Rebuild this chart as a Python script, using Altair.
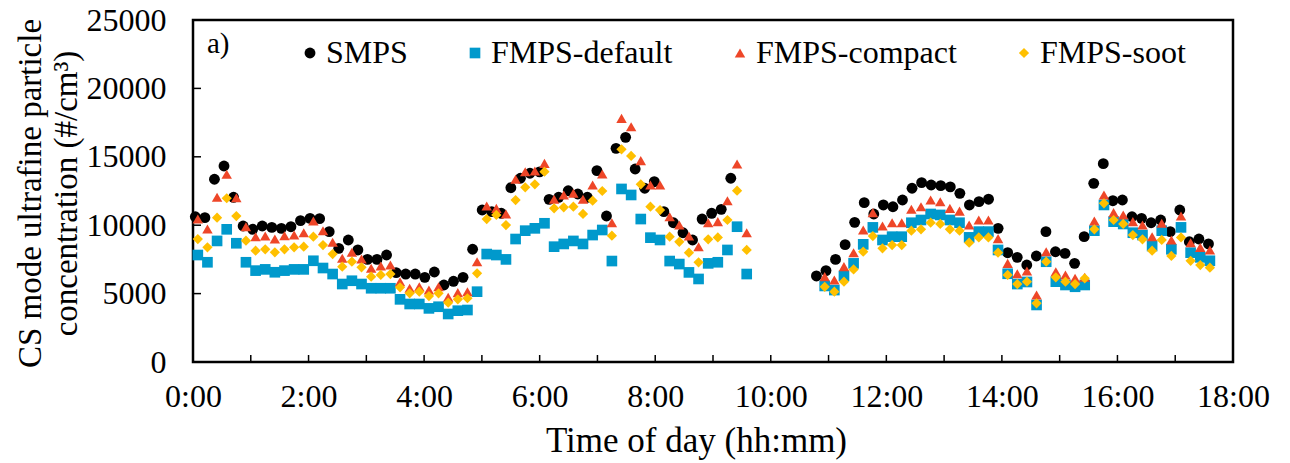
import altair as alt
import pandas as pd

# ---- values (#/cm3) ----
smps_1 = [10620, 10550, 13360, 14330, 12040, 9940, 9700, 9940, 9840, 9770,
          9890, 10330, 10500, 10480, 9530, 8310, 8920, 8190, 7500, 7500,
          7820, 6530, 6430, 6430, 6190, 6580, 5630, 5900, 6190, 8240,
          11110, 10990, 10870, 12740, 13430, 13800, 13900, 11890, 12040, 12520,
          12280, 12040, 13990, 10670, 15620, 16420, 14110, 12700, 13180, 10990,
          10180, 9450, 8920, 10450, 10870, 11160, 13430]
smps_2 = [6290, 6680, 7500, 8580, 10210, 11650, 10820, 11480, 11350, 11840,
          12700, 13110, 12940, 12890, 12800, 12330, 11480, 11720, 11900, 9770,
          7990, 7650, 7090, 7750, 9530, 8060, 7940, 7210, 9160, 13060,
          14500, 11790, 11840, 10620, 10500, 10180, 10380, 9530, 11110, 8790,
          8990, 8630]

default_1 = [7820, 7290, 8850, 9700, 8680, 7290, 6680, 6770, 6560, 6680,
             6770, 6770, 7400, 6870, 6430, 5700, 5940, 5700, 5390, 5390,
             5390, 4580, 4240, 4240, 3920, 4040, 3510, 3750, 3800, 5140,
             7890, 7820, 7500, 8990, 9600, 9770, 10140, 8430, 8630, 8850,
             8630, 9280, 9650, 7380, 12650, 12210, 10450, 9090, 8920, 7380,
             7160, 6550, 6070, 7210, 7290, 8190, 9890, 6430]
default_2 = [5560, 5260, 6290, 7210, 8600, 9840, 8920, 9160, 9160, 10180,
             10380, 10820, 10750, 10380, 10180, 9110, 9530, 9530, 8190, 6450,
             5700, 5850, 4170, 7330, 5870, 5630, 5500, 5630, 9600, 11480,
             10260, 10090, 9450, 9280, 8480, 9600, 8240, 9840, 7990, 7650,
             7400]

compact_1 = [10450, 9720, 12040, 13720, 12010, 9890, 9160, 9210, 8990, 9230,
             9280, 9450, 10310, 9600, 8750, 7580, 8020, 7530, 6850, 7020,
             7090, 5870, 5390, 5500, 5260, 5500, 4730, 5070, 5140, 7330,
             11400, 11230, 10820, 13360, 13910, 13960, 14520, 11890, 12210, 12330,
             11890, 12940, 13740, 10180, 17810, 17200, 14720, 12940, 12940, 10620,
             10010, 9210, 8430, 10180, 10260, 11790, 14470, 9450]
compact_2 = [6240, 5990, 6970, 7990, 9650, 10920, 9940, 10180, 10180, 11160,
             11350, 11840, 11720, 11230, 11030, 10010, 10380, 10380, 9020, 7210,
             6450, 6650, 4900, 8060, 6600, 6360, 6120, 6190, 10310, 12210,
             10920, 10750, 10260, 10010, 9160, 10140, 8920, 10670, 8720, 8380,
             8190]

soot_1 = [8990, 8380, 10550, 11970, 10670, 8870, 8140, 8240, 8020, 8240,
          8380, 8430, 9160, 8550, 7890, 6970, 7330, 6920, 6240, 6360,
          6430, 5460, 5020, 5140, 4820, 5020, 4340, 4580, 4660, 6480,
          10450, 10750, 10010, 11840, 12770, 12990, 13910, 11230, 11310, 11350,
          10820, 11790, 12500, 9230, 15550, 15060, 12990, 11350, 11110, 9160,
          8790, 7990, 7290, 8970, 9110, 10380, 12520, 8190]
soot_2 = [5500, 5140, 5870, 6770, 8060, 9210, 8310, 8550, 8550, 9600,
          9700, 10180, 10090, 9700, 9600, 8720, 9110, 9110, 7990, 6360,
          5700, 5870, 4290, 7330, 6190, 5870, 5700, 6120, 9700, 11600,
          10380, 10090, 9280, 8970, 8140, 8920, 7750, 9110, 7400, 7090,
          6890]

# sampling grids (minutes after midnight): SMPS scans ~9.93 min, FMPS 10 min
def grid(start, step, n):
    return [start + step * i for i in range(n)]

smps_t1 = grid(2.4, 9.93, len(smps_1))
smps_t2 = grid(647.4, 9.93, len(smps_2))
fmps_t1 = grid(5.0, 10.0, len(default_1))
fmps_t2 = grid(656.0, 10.0, len(default_2))

series = ["SMPS", "FMPS-default", "FMPS-compact", "FMPS-soot"]
colors = ["#000000", "#0099CC", "#EE4628", "#FFC000"]
shapes = ["circle", "square", "triangle-up", "diamond"]
sizes = [118, 105, 190, 140]

x_ticks = list(range(0, 19, 2))
y_ticks = [0, 5000, 10000, 15000, 20000, 25000]
inner_x_ticks = list(range(1, 18))
inner_y_ticks = [5000, 10000, 15000, 20000]

rows = []
def add(name, times, vals):
    for t, v in zip(times, vals):
        rows.append({"hour": t / 60.0, "conc": v, "series": name})

add("SMPS", smps_t1, smps_1)
add("SMPS", smps_t2, smps_2)
add("FMPS-default", fmps_t1, default_1)
add("FMPS-default", fmps_t2, default_2)
add("FMPS-compact", fmps_t1, compact_1)
add("FMPS-compact", fmps_t2, compact_2)
add("FMPS-soot", fmps_t1, soot_1)
add("FMPS-soot", fmps_t2, soot_2)
df = pd.DataFrame(rows)

W, H = 1040, 342
FONT = "Liberation Serif"
FS = 32

x_scale = alt.Scale(domain=[0, 18], nice=False, zero=False)
y_scale = alt.Scale(domain=[0, 25000], nice=False)

x_axis = alt.Axis(
    title="Time of day (hh:mm)", values=x_ticks, labelExpr="datum.value + ':00'",
    ticks=False, domain=False, grid=False, labelPadding=19, labelFlush=False,
    labelFont=FONT, labelFontSize=FS, labelColor="black",
    titleFont=FONT, titleFontSize=35, titleFontWeight="normal", titleColor="black",
    titleBaseline="alphabetic", titleY=89, titleX=503)
y_axis = alt.Axis(
    title=["CS mode ultrafine particle", "concentration (#/cm³)"], values=y_ticks,
    format="d", ticks=False, domain=False, grid=False, labelPadding=27, labelFlush=False,
    labelFont=FONT, labelFontSize=FS, labelColor="black",
    titleFont=FONT, titleFontSize=33, titleFontWeight="normal", titleColor="black",
    titleBaseline="middle", titleX=-163, titleY=173, titleLineHeight=36)

legend = alt.Legend(
    orient="none", legendX=101, legendY=17, direction="horizontal", title=None,
    labelFont=FONT, labelFontSize=FS, labelColor="black", labelLimit=500,
    symbolSize=100, columnPadding=51, labelOffset=0, padding=0,
    symbolStrokeWidth=0, symbolOpacity=1,
)

points = alt.Chart(df).mark_point(filled=True, opacity=1, strokeWidth=0).encode(
    x=alt.X("hour:Q", scale=x_scale, axis=x_axis),
    y=alt.Y("conc:Q", scale=y_scale, axis=y_axis),
    color=alt.Color("series:N", scale=alt.Scale(domain=series, range=colors), legend=legend),
    shape=alt.Shape("series:N", scale=alt.Scale(domain=series, range=shapes), legend=legend),
    size=alt.Size("series:N", scale=alt.Scale(domain=series, range=sizes), legend=None),
)

xt = alt.Chart(pd.DataFrame({"hour": inner_x_ticks})).mark_rule(color="black", strokeWidth=1.5).encode(
    x=alt.X("hour:Q", scale=x_scale, axis=x_axis),
    y=alt.value(H), y2=alt.value(H - 7),
)
yt = alt.Chart(pd.DataFrame({"conc": inner_y_ticks})).mark_rule(color="black", strokeWidth=1.5).encode(
    y=alt.Y("conc:Q", scale=y_scale, axis=y_axis),
    x=alt.value(0), x2=alt.value(8),
)
panel = alt.Chart(pd.DataFrame({"t": ["a)"]})).mark_text(
    align="left", baseline="alphabetic", font=FONT, fontSize=29, color="black"
).encode(text="t:N", x=alt.value(14), y=alt.value(33))

chart = alt.layer(points, xt, yt, panel).properties(
    width=W, height=H,
    autosize=alt.AutoSizeParams(type="none"),
    padding={"left": 193, "top": 20, "right": 57, "bottom": 101},
    background="white",
).configure_view(stroke="black", strokeWidth=2.5)

chart.save("out.html", embed_options={"renderer": "svg", "actions": False})
